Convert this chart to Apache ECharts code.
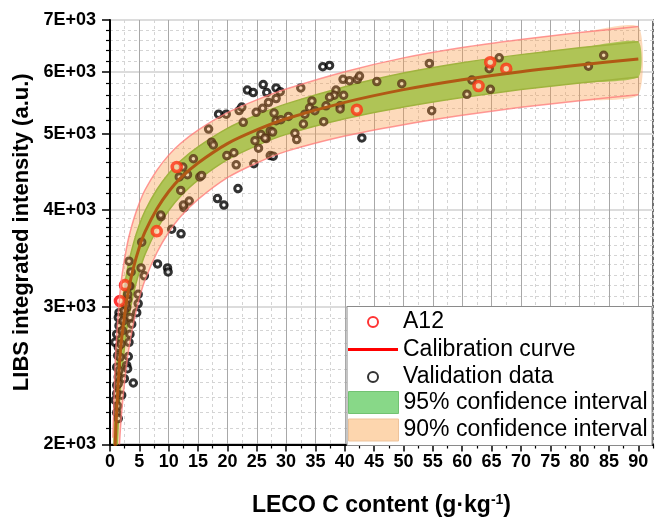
<!DOCTYPE html>
<html>
<head>
<meta charset="utf-8">
<title>LIBS calibration</title>
<script src="https://cdn.jsdelivr.net/npm/echarts@6/dist/echarts.min.js"></script>
<style>
html, body { margin: 0; padding: 0; background: #fff; }
#chart { width: 659px; height: 522px; }
</style>
</head>
<body>
<div id="chart"></div>
<script>
// axis ticks
var xTicks = [0, 5, 10, 15, 20, 25, 30, 35, 40, 45, 50, 55, 60, 65, 70, 75, 80, 85, 90];
var yTicks = [2000, 3000, 4000, 5000, 6000, 7000];
var yTickLabels = ['2E+03', '3E+03', '4E+03', '5E+03', '6E+03', '7E+03'];

// calibration curve and confidence bands
var curveX = [0.5, 0.8, 1, 1.5, 2, 3, 4, 5, 6, 8, 10, 12, 15, 20, 25, 30, 40, 50, 60, 70, 80, 90];
var curveY = [1460, 1890, 2100, 2470, 2740, 3110, 3370, 3580, 3750, 4010, 4220, 4390, 4590, 4860, 5060, 5230, 5490, 5700, 5870, 6010, 6130, 6240];
var ci95Upper = [1750, 2175, 2380, 2740, 3005, 3365, 3620, 3825, 3990, 4245, 4450, 4618, 4815, 5085, 5288, 5465, 5750, 5985, 6170, 6320, 6448, 6565];
var ci95Lower = [1170, 1605, 1820, 2200, 2475, 2855, 3120, 3335, 3510, 3775, 3990, 4162, 4365, 4635, 4832, 4995, 5230, 5415, 5570, 5700, 5812, 5915];
var ci90Upper = [2040, 2455, 2660, 3015, 3275, 3630, 3880, 4080, 4245, 4495, 4698, 4862, 5058, 5325, 5530, 5710, 6010, 6260, 6455, 6610, 6745, 6865];
var ci90Lower = [880, 1325, 1540, 1925, 2205, 2590, 2860, 3080, 3255, 3525, 3742, 3918, 4122, 4395, 4590, 4750, 4970, 5140, 5285, 5410, 5515, 5615];

var a12Data = [
    [1.7, 3054], [2.56, 3201], [7.96, 3754], [11.37, 4536],
    [42.05, 5370], [62.78, 5761], [64.77, 6178], [67.5, 6062]
];

var validationData = [
    [12.6, 4023], [8.7, 3918], [10.5, 3775], [12.1, 3724], [5.4, 3634], [3.24, 3435], [8.1, 3408],
    [9.8, 3368], [9.9, 3328], [5.3, 3368], [5.85, 3290], [3.6, 3328], [3.4, 3192], [4.8, 3115],
    [3.0, 3069], [4.8, 3031], [4.55, 2951], [2.85, 2996], [1.53, 2951], [3.4, 2909], [1.41, 2909],
    [1.53, 2840], [3.7, 2853], [1.14, 2770], [3.4, 2770], [0.85, 2704], [3.24, 2704], [1.41, 2665],
    [3.12, 2593], [1.31, 2600], [2.85, 2526], [3.0, 2501], [1.14, 2513], [1.41, 2441], [2.44, 2429],
    [3.97, 2398], [1.14, 2382], [1.99, 2313], [1.14, 2324], [0.85, 2279], [1.31, 2240], [1.14, 2197],
    [1.41, 2159],
    [1.41, 2393], [1.53, 2488], [1.7, 2588], [1.87, 2690], [2.1, 2798], [2.27, 2881], [2.44, 2967],
    [2.68, 3025], [3.02, 3115], [3.24, 3192],
    [8.64, 3937], [12.5, 4054], [13.5, 4102], [12.05, 4233], [18.3, 4133], [19.4, 4054], [21.8, 4257],
    [11.8, 4405], [13.2, 4435], [12.4, 4536], [15.3, 4405], [15.6, 4425], [14.2, 4648], [17.3, 4881],
    [17.6, 4842], [16.8, 5074], [19.9, 4692], [21.1, 4731], [21.5, 4566], [24.5, 4580], [18.5, 5302],
    [19.8, 5302], [22.7, 5175], [22.0, 5359], [22.45, 5413], [23.4, 5693], [24.4, 5650], [26.1, 5785],
    [26.7, 5650], [24.9, 5330], [26.0, 5395], [27.0, 5489], [24.7, 4903], [25.7, 4994], [26.6, 4934],
    [25.3, 4796], [27.3, 5045], [27.3, 4692],
    [28.3, 5729], [29.0, 5666], [28.3, 5552], [32.5, 5729], [36.25, 6098], [37.4, 6122], [39.7, 5875],
    [40.8, 5852], [42.15, 5875], [42.5, 5932], [45.45, 5836], [49.7, 5800], [38.5, 5693], [38.2, 5606],
    [39.8, 5606], [37.4, 5573], [34.4, 5512], [34.0, 5401], [36.8, 5434], [39.2, 5434], [39.2, 5384],
    [34.9, 5357], [33.2, 5302], [30.4, 5267], [27.95, 5319], [28.3, 5200], [29.1, 5215], [32.95, 5150],
    [36.4, 5185], [31.5, 5010], [31.8, 4919], [27.7, 5029], [26.4, 4943], [42.9, 4943], [27.8, 4684],
    [54.4, 6157], [54.8, 5357], [66.3, 6260], [64.6, 6062], [61.65, 5863], [60.8, 5622], [64.8, 5705],
    [81.5, 6109], [84.1, 6307]
];

var font = "'Liberation Sans', Arial, sans-serif";

// minor ticks
var xMinor = [];
for (var m = 2.5; m <= 92.5; m += 5) xMinor.push(m);
var yMinor = [];
for (var v = 2100; v < 7000; v += (v < 4000 ? 100 : 200)) {
    if (yTicks.indexOf(v) < 0) yMinor.push(v);
}

// filled band between two curves, drawn as one polygon
function band(name, upper, lower, legendColor, fill, edge, z) {
    return {
        name: name,
        type: 'custom',
        z: z,
        clip: true,
        silent: true,
        itemStyle: {color: legendColor},
        data: [[curveX[0], upper[0]]],
        renderItem: function (params, api) {
            var top = [], bottom = [];
            for (var i = 0; i < curveX.length; i++) {
                top.push(api.coord([curveX[i], upper[i]]));
                bottom.push(api.coord([curveX[i], lower[i]]));
            }
            return {
                type: 'group',
                children: [
                    {type: 'polygon', shape: {points: top.concat(bottom.slice().reverse()), smooth: 0.2}, style: {fill: fill}},
                    {type: 'polyline', shape: {points: top, smooth: 0.2}, style: {fill: null, stroke: edge, lineWidth: 1.5}},
                    {type: 'polyline', shape: {points: bottom, smooth: 0.2}, style: {fill: null, stroke: edge, lineWidth: 1.5}}
                ]
            };
        }
    };
}

var chart = echarts.init(document.getElementById('chart'));

var option = {
    backgroundColor: '#fff',
    animation: false,
    grid: {left: 110, right: 6, top: 20, bottom: 74, show: true, borderColor: '#444', borderWidth: 1.5, backgroundColor: 'transparent'},
    xAxis: [{
        type: 'value', min: 0, max: 92.5,
        name: 'LECO C content (g·kg{sup|-1})',
        nameLocation: 'middle', nameGap: 49,
        nameTextStyle: {fontFamily: font, fontWeight: 'bold', fontSize: 23, color: '#000',
            rich: {sup: {fontFamily: font, fontWeight: 'bold', fontSize: 14, color: '#000', verticalAlign: 'top', padding: [0, 0, 10, 0]}}},
        axisLine: {lineStyle: {color: '#000', width: 2}},
        axisTick: {customValues: xTicks, length: 7, lineStyle: {color: '#000', width: 1.5}},
        axisLabel: {customValues: xTicks, margin: 9, fontFamily: font, fontWeight: 'bold', fontSize: 18, color: '#000'},
        splitLine: {show: true, lineStyle: {color: '#a8a8a8', width: 1}}
    }, {
        type: 'value', min: 0, max: 92.5, position: 'bottom',
        axisLine: {show: false},
        axisTick: {customValues: xMinor, length: 4, lineStyle: {color: '#000', width: 1.2}},
        axisLabel: {show: false},
        splitLine: {show: true, lineStyle: {color: '#d4d4d4', width: 1, type: [3, 3]}}
    }],
    yAxis: [{
        type: 'log', min: 2000, max: 7000,
        name: 'LIBS integrated intensity (a.u.)',
        nameLocation: 'middle', nameGap: 58,
        nameTextStyle: {fontFamily: font, fontWeight: 'bold', fontSize: 22, color: '#000'},
        axisLine: {lineStyle: {color: '#000', width: 2}},
        axisTick: {customValues: yTicks, length: 8, lineStyle: {color: '#000', width: 1.5}},
        axisLabel: {
            customValues: yTicks, margin: 14, fontFamily: font, fontWeight: 'bold', fontSize: 18, color: '#000',
            formatter: function (val) {
                for (var i = 0; i < yTicks.length; i++) {
                    if (Math.abs(yTicks[i] - val) < 1) return yTickLabels[i];
                }
                return '';
            }
        },
        splitLine: {show: true, lineStyle: {color: '#dcdcdc', width: 2}}
    }, {
        type: 'log', min: 2000, max: 7000, position: 'left',
        axisLine: {show: false},
        axisTick: {customValues: yMinor, length: 4, lineStyle: {color: '#000', width: 1.2}},
        axisLabel: {show: false},
        splitLine: {show: true, lineStyle: {color: '#d4d4d4', width: 1, type: [3, 3]}}
    }],
    legend: [{
        data: [
            {name: 'A12'},
            {name: 'Calibration curve', icon: 'path://M0,0 H50 V3 H0 Z', itemStyle: {color: '#ff0000'}},
            {name: 'Validation data'}
        ],
        orient: 'vertical', left: 348, top: 308.5, padding: 0, z: 20,
        itemWidth: 50, itemHeight: 10, itemGap: 0.5,
        textStyle: {fontFamily: font, fontSize: 23, color: '#000', lineHeight: 27}
    }, {
        data: [
            {name: '95% confidence interval', itemStyle: {borderColor: '#72c272', borderWidth: 1}},
            {name: '90% confidence interval', itemStyle: {borderColor: '#eec39a', borderWidth: 1}}
        ],
        orient: 'vertical', left: 348, top: 391, padding: 0, z: 20,
        icon: 'rect', itemWidth: 50, itemHeight: 22, itemGap: 4.5,
        textStyle: {fontFamily: font, fontSize: 23, color: '#000', lineHeight: 22}
    }],
    graphic: [{
        type: 'rect', z: 15,
        shape: {x: 347, y: 306.5, width: 305, height: 139},
        style: {fill: '#fff', stroke: '#8a8a8a', lineWidth: 1}
    }],
    series: [
        band('95% confidence interval', ci95Upper, ci95Lower, '#88d888', 'rgb(135,222,100)', '#70c440', 1),
        {
            name: 'Validation data', type: 'scatter', z: 2,
            symbol: 'circle', symbolSize: 6.5,
            itemStyle: {color: '#fff', borderColor: '#000', borderWidth: 3},
            data: validationData
        },
        {
            name: 'A12', type: 'scatter', z: 2,
            symbol: 'circle', symbolSize: 9,
            itemStyle: {color: '#fff', borderColor: '#ff0000', borderWidth: 3.6},
            data: a12Data
        },
        {
            name: 'Calibration curve', type: 'line', z: 3,
            smooth: 0.3, symbol: 'none', showSymbol: false,
            lineStyle: {color: '#8a3a00', width: 3},
            itemStyle: {color: '#ff0000'},
            data: curveX.map(function (x, i) { return [x, curveY[i]]; })
        },
        band('90% confidence interval', ci90Upper, ci90Lower, '#fdd6ae', 'rgba(250,150,60,0.35)', 'rgba(255,120,120,0.75)', 5)
    ]
};

chart.setOption(option);
</script>
</body>
</html>
